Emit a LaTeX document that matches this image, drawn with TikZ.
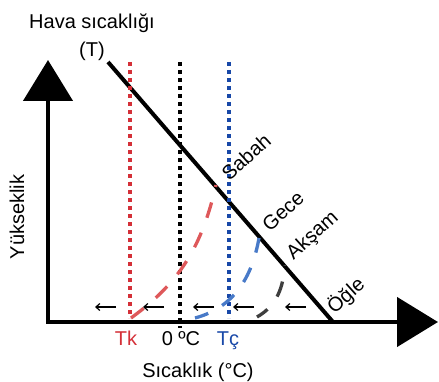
\documentclass[tikz,border=0pt]{standalone}
\usepackage{fontspec}
\setmainfont{Liberation Sans}
\usetikzlibrary{arrows.meta}
\definecolor{tkred}{RGB}{212,48,56}
\definecolor{curvered}{RGB}{222,88,90}
\definecolor{tcblue}{RGB}{24,72,168}
\definecolor{curveblue}{RGB}{72,122,200}
\definecolor{curvegray}{RGB}{62,62,62}

\begin{document}
\begin{tikzpicture}[x=1pt, y=1pt,
        every node/.style={font=\fontsize{20}{24}\selectfont, inner sep=0pt},
        axis/.style={line width=4.6pt, {Triangle[length=41pt, width=49pt]}-{Triangle[length=41pt, width=49pt]}},
        level/.style={line width=3.3pt, dash pattern=on 4pt off 4pt},
        change/.style={line width=3.3pt, dash pattern=on 16pt off 16pt},
        flow/.style={line width=1.2pt, -{Straight Barb[length=4pt, width=7pt]}},
        daytime/.style={rotate=42}
      ]
      \useasboundingbox (0,0) rectangle (439,381);

      % axes
      \coordinate (origin) at (48,59);
      \coordinate (ytip) at (48,321);
      \coordinate (xtip) at (438,59);
      \draw[axis] (ytip) -- (origin) -- (xtip);

      % air temperature line
      \coordinate (ttop) at (108,319);
      \coordinate (tbot) at (333,59);
      \draw[line width=4pt] (ttop) -- (tbot);

      % reference temperatures
      \draw[level, tkred] (130,319) -- (130,63);
      \draw[level, black] (180,319) -- (180,53);
      \draw[level, tcblue] (229,319) -- (229,63);

      % dashed curves
      \draw[change, curvered] (131,63) to[out=36, in=-103] (216,196);
      \draw[change, curveblue, dash phase=2pt] (195,63) to[out=15, in=-100] (259,143);
      \draw[change, curvegray, dash phase=3pt] (257,64) to[out=30, in=-95] (285,116);

      % small arrows
      \foreach \x in {116,164,214,254,306}
        \draw[flow] (\x,74) -- ++(-21,0);

      % labels
      \node[anchor=base] (hava) at (92,352) {Hava sıcaklığı};
      \node[anchor=base] (tlabel) at (92,324) {(T)};
      \node[rotate=90] (yuk) at (17,164) {Yükseklik};
      \node[daytime] (sabah) at (246,224) {Sabah};
      \node[daytime] (gece) at (283,170) {Gece};
      \node[daytime] (aksam) at (313,145) {Akşam};
      \node[daytime] (ogle) at (346,85) {Öğle};
      \node[anchor=base, text=tkred] (tk) at (126,36) {Tk};
      \node[anchor=base] (zero) at (181,36) {0 ºC};
      \node[anchor=base, text=tcblue] (tc) at (228,36) {Tç};
      \node[anchor=base] (sic) at (198,4) {Sıcaklık (°C)};
    \end{tikzpicture}
\end{document}
